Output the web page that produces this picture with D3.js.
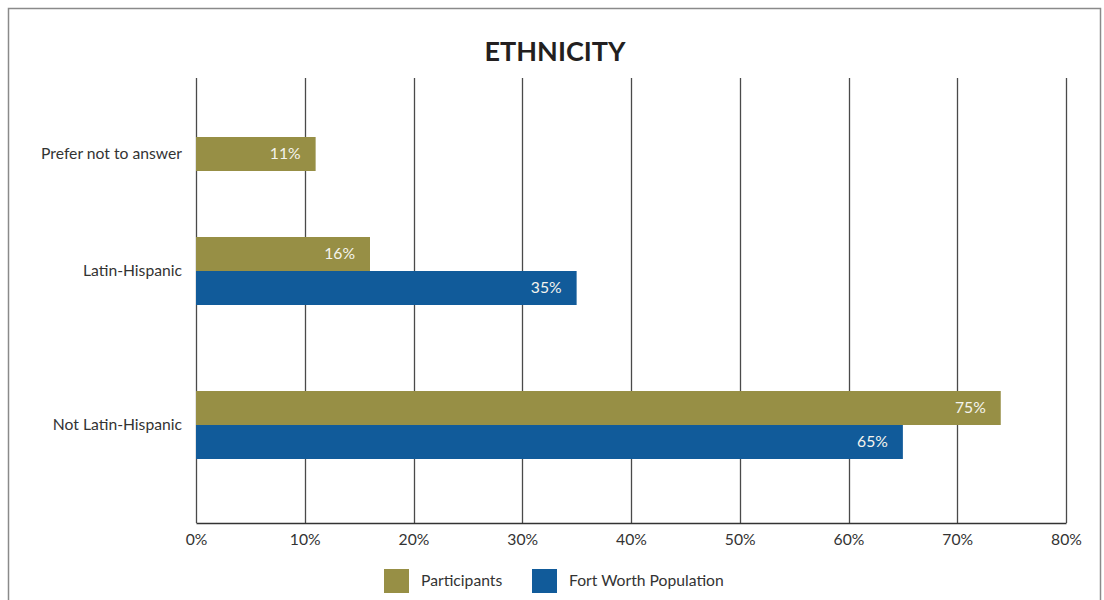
<!DOCTYPE html>
<html>
<head>
<meta charset="utf-8">
<script src="https://cdn.jsdelivr.net/npm/d3@7/dist/d3.min.js"></script>
<style>
  html, body { margin: 0; padding: 0; background: #fff; }
  svg { display: block; font-family: Lato, "Open Sans", sans-serif; }
</style>
</head>
<body>
<svg id="chart" width="1104" height="600"></svg>
<script>
// ---- data ----
const title = "ETHNICITY";
const categories = ["Prefer not to answer", "Latin-Hispanic", "Not Latin-Hispanic"];
const seriesNames = ["Participants", "Fort Worth Population"];
const participants = [11, 16, 74];
const participantLabels = ["11%", "16%", "75%"];
const fortWorth = [null, 35, 65];
const fortWorthLabels = [null, "35%", "65%"];
const xTicks = [0, 10, 20, 30, 40, 50, 60, 70, 80];
const xTickLabels = ["0%", "10%", "20%", "30%", "40%", "50%", "60%", "70%", "80%"];
const colors = ["#978F45", "#115B9A"];

// ---- layout ----
const svg = d3.select("#chart");
const plot = { left: 196, right: 1066, top: 78, bottom: 523 };
const barH = 34;
const fs = 15.7;

// frame
svg.append("rect")
  .attr("x", 8.5).attr("y", 8.5)
  .attr("width", 1092).attr("height", 620)
  .attr("fill", "none").attr("stroke", "#8a8a8a").attr("stroke-width", 1.5);

// title
svg.append("text")
  .attr("x", 555).attr("y", 61)
  .attr("text-anchor", "middle")
  .attr("font-size", 27).attr("font-weight", 700)
  .attr("fill", "#231f20")
  .text(title);

const x = d3.scaleLinear().domain([0, 80]).range([plot.left, plot.right]);
// group top positions for each category (uneven spacing in the original)
const yTop = d3.scaleOrdinal().domain(categories).range([137, 237, 391]);
const yInner = d3.scaleBand().domain(seriesNames).range([0, barH * 2]).padding(0);

// gridlines
svg.append("g").selectAll("line").data(xTicks).join("line")
  .attr("x1", d => Math.round(x(d)) + 0.5).attr("x2", d => Math.round(x(d)) + 0.5)
  .attr("y1", plot.top).attr("y2", plot.bottom)
  .attr("stroke", "#4a4a4a").attr("stroke-width", 1.3);

// bottom axis via d3.axisBottom
const axis = d3.axisBottom(x).tickValues(xTicks)
  .tickFormat((d, i) => xTickLabels[i]).tickSize(0).tickPadding(11);
const gAxis = svg.append("g").attr("transform", `translate(0,${plot.bottom})`).call(axis);
gAxis.select(".domain").attr("stroke", "#333").attr("stroke-width", 1.5);
gAxis.selectAll("text").attr("font-size", fs).attr("fill", "#333")
  .attr("font-family", "Lato, sans-serif");

// rows data
const rows = categories.map((c, i) => ({
  cat: c,
  bars: [
    { s: seriesNames[0], v: participants[i], label: participantLabels[i], color: colors[0] },
    { s: seriesNames[1], v: fortWorth[i], label: fortWorthLabels[i], color: colors[1] }
  ].filter(b => b.v != null)
}));

const gRows = svg.append("g").selectAll("g").data(rows).join("g")
  .attr("transform", d => `translate(0,${yTop(d.cat)})`);

gRows.selectAll("rect").data(d => d.bars).join("rect")
  .attr("x", x(0))
  .attr("y", d => yInner(d.s))
  .attr("width", d => x(d.v) - x(0))
  .attr("height", yInner.bandwidth())
  .attr("fill", d => d.color);

gRows.selectAll("text.val").data(d => d.bars).join("text")
  .attr("class", "val")
  .attr("x", d => x(d.v) - 15)
  .attr("y", d => yInner(d.s) + yInner.bandwidth() / 2)
  .attr("dy", "0.35em")
  .attr("text-anchor", "end")
  .attr("font-size", fs).attr("fill", "#f4f4ee")
  .text(d => d.label);

// category labels
gRows.append("text")
  .attr("x", plot.left - 14)
  .attr("y", d => d.bars.length * barH / 2)
  .attr("dy", "0.35em")
  .attr("text-anchor", "end")
  .attr("font-size", fs).attr("fill", "#333")
  .text(d => d.cat);

// legend
const legendX = [384, 532];
const lg = svg.append("g").selectAll("g").data(seriesNames).join("g")
  .attr("transform", (d, i) => `translate(${legendX[i]},569)`);
lg.append("rect").attr("width", 25).attr("height", 24).attr("fill", (d, i) => colors[i]);
lg.append("text").attr("x", 37).attr("y", 12).attr("dy", "0.35em")
  .attr("font-size", fs).attr("fill", "#333").text(d => d);
</script>
</body>
</html>
